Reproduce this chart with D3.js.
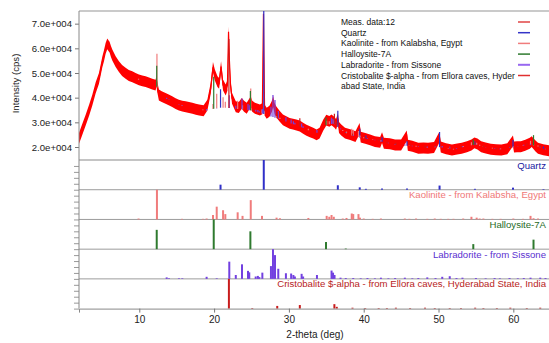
<!DOCTYPE html>
<html>
<head>
<meta charset="utf-8">
<script src="https://cdn.jsdelivr.net/npm/d3@7"></script>
<style>
  body { margin: 0; background: #fff; }
  svg { display: block; font-family: "Liberation Sans", Arial, sans-serif; }
</style>
</head>
<body>
<div id="chart"></div>
<script>
// measured pattern, centre of the noisy band [2theta, counts]
const measured = [
  [1.94, 23500], [2.3, 26500], [2.83, 30900], [3.3, 35000], [3.72, 39000], [4.17, 44000],
  [4.61, 47800], [5.06, 54500], [5.28, 57000], [5.5, 60000], [5.72, 61800], [5.9, 61000],
  [6.03, 60500], [6.2, 58800], [6.39, 57300], [6.84, 54600], [7.28, 52600], [7.7, 51000],
  [8.17, 49900], [8.6, 49000], [9.06, 48500], [9.5, 47800], [9.95, 47200], [10.4, 46800],
  [10.84, 46500], [11.3, 46000], [11.73, 45500], [12.18, 45100], [12.3, 46800], [12.4, 44500],
  [12.62, 41100], [13.0, 40400], [13.51, 39700], [14.0, 39000], [14.4, 38400], [14.85, 37600],
  [15.3, 37000], [15.75, 36600], [16.2, 36300], [16.65, 36000], [17.1, 35700], [17.55, 35300],
  [18.0, 35000], [18.6, 34700], [19.1, 37000], [19.55, 43800], [19.85, 52300], [20.1, 49200],
  [20.45, 46500], [20.67, 45800], [20.93, 52600], [21.05, 49000], [21.2, 45100], [21.55, 43100],
  [21.78, 45000], [21.93, 66700], [22.05, 55000], [22.2, 45000], [22.4, 39700], [22.9, 36300],
  [23.3, 36000], [23.7, 37700], [24.0, 36500], [24.36, 35700], [24.9, 38400], [25.1, 36500],
  [25.46, 35700], [26.13, 35000], [26.45, 35500], [26.6, 74000], [26.75, 35000], [27.03, 33700],
  [27.4, 34500], [27.7, 36300], [27.9, 38400], [28.1, 35500], [28.3, 34300], [28.75, 32500],
  [29.2, 31000], [29.65, 30300], [30.1, 29600], [30.55, 29300], [31.0, 28900], [31.45, 28500],
  [31.9, 27600], [32.35, 26800], [32.8, 26200], [33.25, 25600], [33.7, 24900], [34.1, 25600],
  [34.6, 28900], [35.0, 30900], [35.4, 30400], [35.7, 31000], [36.1, 30000], [36.3, 29200],
  [36.55, 31500], [36.7, 27900], [37.0, 26900], [37.5, 25600], [38.2, 25000], [38.9, 24200],
  [39.45, 27500], [39.6, 24000], [40.2, 23500], [40.85, 22900], [41.5, 22200], [42.2, 21900],
  [42.45, 23800], [42.7, 21500], [43.5, 21300], [44.2, 20800], [45.0, 20800], [45.75, 24500],
  [45.9, 20700], [46.5, 20300], [47.3, 19500], [48.0, 19600], [48.6, 19500], [49.4, 19800],
  [50.12, 24000], [50.3, 20000], [51.0, 19300], [51.8, 18800], [52.5, 19200], [53.1, 19500],
  [53.8, 20100], [54.4, 20800], [54.8, 21700], [55.2, 21200], [55.7, 20100], [56.3, 19600],
  [57.0, 19100], [57.7, 18900], [58.4, 18800], [59.2, 19300], [59.95, 22500], [60.1, 20000],
  [60.5, 20100], [61.0, 20100], [61.6, 20700], [62.2, 21500], [62.45, 22200], [62.6, 21700],
  [63.0, 20300], [63.3, 19500], [64.0, 18900], [64.77, 18500]
];
// half thickness of the noise band (counts)
const noiseHalf = 2200;

// background under the pattern, where the reference sticks start [2theta, counts]
const background = [
  [1.94, 23500], [2.83, 30900], [3.72, 39000], [4.61, 47800], [5.28, 56600], [5.72, 61300],
  [6.39, 57300], [7.28, 52600], [8.17, 49900], [9.06, 48500], [9.95, 47200], [10.84, 46500],
  [11.73, 45500], [12.3, 44800], [12.62, 41100], [13.51, 39700], [14.4, 38400], [15.3, 37000],
  [16.2, 36300], [17.1, 35700], [18, 35000], [19, 34800], [20, 35500], [21, 36000], [22, 35800],
  [23, 35500], [24, 35200], [25, 34800], [26, 34000], [27, 33000], [28, 32000], [29, 31200],
  [30, 29800], [31, 28900], [32, 27600], [33, 26200], [34, 25600], [35, 29000], [36, 29500],
  [37, 26900], [38, 25000], [40, 23500], [42, 22500], [44, 21000], [46, 20500], [48, 19700],
  [50, 20000], [52, 19000], [54, 20500], [55, 21000], [56, 20000], [58, 19000], [60, 19800],
  [62, 21000], [63, 20500], [64.77, 18500]
];

// reference patterns [2theta, relative intensity %]
const quartz = [
  [20.86, 17], [26.64, 100], [36.54, 15], [39.47, 8], [40.29, 3], [42.45, 4], [45.79, 4],
  [50.14, 14], [54.87, 3], [59.96, 7], [64.03, 2]
];
const kaolinite = [
  [9.9, 3], [12.36, 100], [15.7, 2], [18.5, 2], [19.0, 3], [19.85, 15], [20.35, 43], [21.2, 31],
  [21.5, 18], [23.15, 24], [23.8, 12], [24.9, 65], [26.4, 12], [28.35, 6], [28.8, 4], [32.6, 5],
  [35.05, 12], [35.4, 9], [35.7, 15], [36.0, 9], [37.2, 3], [37.7, 5], [38.4, 20], [38.6, 18],
  [39.3, 18], [39.5, 6], [40.0, 3], [41.2, 2], [42.3, 3], [45.5, 3], [46.1, 2], [47.0, 3],
  [48.5, 2], [49.5, 3], [50.3, 2], [51.3, 2], [52.0, 2], [53.3, 3], [54.4, 9], [55.1, 6],
  [55.5, 3], [56.0, 3], [57.2, 2], [58.3, 2], [60.0, 3], [61.3, 2], [62.3, 12], [62.7, 4], [63.3, 3]
];
const halloysite = [
  [12.33, 65], [19.95, 100], [24.85, 60], [34.96, 24], [37.6, 2], [54.65, 17], [62.7, 32]
];
const labradorite = [
  [13.66, 5], [13.97, 2], [15.3, 2], [15.75, 2], [19.0, 7], [20.35, 2], [22.03, 58], [22.9, 13],
  [23.73, 49], [24.53, 27], [24.7, 22], [25.56, 8], [25.85, 10], [26.05, 6], [26.45, 21],
  [27.6, 43], [27.87, 100], [28.14, 80], [28.58, 34], [29.6, 19], [30.3, 18], [30.6, 13],
  [30.8, 8], [31.7, 17], [31.9, 8], [33.75, 13], [35.7, 28], [35.9, 21], [36.1, 13], [36.9, 4],
  [37.6, 3], [38.6, 3], [39.6, 2], [40.5, 3], [41.5, 2], [42.3, 4], [43.3, 2], [44.2, 3],
  [45.5, 4], [46.5, 2], [47.3, 3], [48.5, 5], [49.6, 3], [50.5, 7], [51.5, 9], [52.4, 3],
  [53.2, 4], [55.0, 3], [56.3, 2], [57.5, 3], [58.2, 2], [59.5, 3], [60.6, 2], [61.4, 3],
  [62.3, 4], [63.6, 4], [64.3, 3]
];
const cristobalite = [
  [21.98, 100], [25.1, 2], [28.44, 9], [31.46, 12], [36.08, 15], [36.4, 6], [38.5, 3], [40.2, 2],
  [42.0, 2], [43.1, 2], [44.3, 3], [46.2, 2], [48.2, 3], [49.5, 2], [51.5, 2], [53.0, 2],
  [54.9, 3], [56.0, 2], [57.8, 2], [59.6, 3], [61.8, 2], [63.6, 3]
];

const phaseNames = [
  "Quartz",
  "Kaolinite - from Kalabsha, Egypt",
  "Halloysite-7A",
  "Labradorite - from Sissone",
  "Cristobalite $-alpha - from Ellora caves, Hyderabad State, India"
];
const legendLines = [
  "Meas. data:12",
  "Quartz",
  "Kaolinite - from Kalabsha, Egypt",
  "Halloysite-7A",
  "Labradorite - from Sissone",
  "Cristobalite $-alpha - from Ellora caves, Hyder",
  "abad State, India"
];
// full-scale height (counts) of each pattern when overlaid on the measurement
const overlayScale = [44000, 13700, 13000, 9000, 28000];

const yTickValues = [20000, 30000, 40000, 50000, 60000, 70000];
const xTickValues = [10, 20, 30, 40, 50, 60];

const phases = [quartz, kaolinite, halloysite, labradorite, cristobalite];
const stickColors = ["#3030c8", "#f07c7c", "#2f7a2f", "#7240e0", "#c81c1c"];
const labelColors = ["#2020a0", "#f07878", "#1f6b1f", "#5a30d0", "#b81c1c"];
const legendColors = ["#e04545", "#3434c8", "#f07c7c", "#2f7a2f", "#9868f0", "#e03030"];

const W = 549, H = 343;
const m = {left: 79, right: 549, top: 11, mainBottom: 160};
const panelH = 29.72;
const plotBottom = m.mainBottom + panelH * phases.length;

const svg = d3.select("#chart").append("svg")
  .attr("width", W)
  .attr("height", H);

const x = d3.scaleLinear().domain([1.94, 64.77]).range([m.left, m.right]);
const y = d3.scaleLinear().domain([14730, 75134]).range([m.mainBottom, m.top]);
const bg = d3.scaleLinear()
  .domain(background.map(d => d[0]))
  .range(background.map(d => d[1]));

svg.append("clipPath").attr("id", "mainClip")
  .append("rect")
    .attr("x", m.left).attr("y", m.top)
    .attr("width", m.right - m.left).attr("height", m.mainBottom - m.top);

// frame lines
svg.append("line")
  .attr("x1", m.left).attr("x2", m.right).attr("y1", m.top).attr("y2", m.top)
  .attr("stroke", "#b8b8b8").attr("stroke-width", 1.5);
svg.append("line")
  .attr("x1", m.left).attr("x2", m.right).attr("y1", m.mainBottom).attr("y2", m.mainBottom)
  .attr("stroke", "#c4c4c4").attr("stroke-width", 2);

// measured pattern
const main = svg.append("g").attr("clip-path", "url(#mainClip)");

main.append("path")
  .datum(measured)
  .attr("fill", "#ff0000")
  .attr("d", d3.area()
    .x(d => x(d[0]))
    .y0(d => y(d[1] - noiseHalf))
    .y1(d => y(d[1] + noiseHalf)));

main.append("path")
  .datum(measured)
  .attr("fill", "none")
  .attr("stroke", "#ff0000")
  .attr("stroke-width", 1.2)
  .attr("d", d3.line().x(d => x(d[0])).y(d => y(d[1])));

// reference sticks over the measurement
phases.forEach((sticks, i) => {
  main.append("g")
    .selectAll("line")
    .data(sticks)
    .enter().append("line")
      .attr("x1", d => x(d[0]))
      .attr("x2", d => x(d[0]))
      .attr("y1", d => y(bg(d[0])))
      .attr("y2", d => y(bg(d[0]) + d[1] / 100 * overlayScale[i]))
      .attr("stroke", stickColors[i])
      .attr("stroke-width", 1.2);
});

// main y axis
const yAxis = svg.append("g")
  .attr("transform", `translate(${m.left},0)`)
  .call(d3.axisLeft(y)
    .tickValues(yTickValues)
    .tickSize(4)
    .tickPadding(3)
    .tickFormat(d => (d / 10000).toFixed(1) + "e+004"));
yAxis.select(".domain").remove();
yAxis.selectAll("line").attr("stroke", "#777");
yAxis.selectAll("text").attr("font-size", 9.6).attr("fill", "#222").attr("font-family", "Liberation Sans, Arial, sans-serif");

// stick panels
phases.forEach((sticks, i) => {
  const t = m.mainBottom + i * panelH;
  const py = d3.scaleLinear().domain([0, 100]).range([t + panelH, t]);
  const g = svg.append("g");

  const ax = g.append("g")
    .attr("transform", `translate(${m.left},0)`)
    .call(d3.axisLeft(py).tickValues([0, 20, 40, 60, 80]).tickSize(5).tickFormat(""));
  ax.select(".domain").remove();
  ax.selectAll("line").attr("stroke", "#999");

  if (i < phases.length - 1) {
    g.append("line")
      .attr("x1", m.left).attr("x2", m.right)
      .attr("y1", t + panelH).attr("y2", t + panelH)
      .attr("stroke", "#9c9c9c").attr("stroke-width", 1);
  }

  g.append("g")
    .selectAll("line")
    .data(sticks)
    .enter().append("line")
      .attr("x1", d => x(d[0]))
      .attr("x2", d => x(d[0]))
      .attr("y1", py(0))
      .attr("y2", d => py(d[1]))
      .attr("stroke", stickColors[i])
      .attr("stroke-width", 2);

  g.append("text")
    .attr("x", 546)
    .attr("y", t + 8.5)
    .attr("text-anchor", "end")
    .attr("font-size", 9.6)
    .attr("fill", labelColors[i])
    .text(phaseNames[i]);
});

// left axis line over the whole height
svg.append("line")
  .attr("x1", m.left).attr("x2", m.left).attr("y1", m.top).attr("y2", plotBottom)
  .attr("stroke", "#888").attr("stroke-width", 1);

// x axis
const xAxis = svg.append("g")
  .attr("transform", `translate(0,${plotBottom})`)
  .call(d3.axisBottom(x).tickValues(xTickValues).tickSize(4).tickPadding(3));
xAxis.select(".domain").attr("stroke", "#888");
xAxis.selectAll("line").attr("stroke", "#777");
xAxis.selectAll("text").attr("font-size", 10).attr("fill", "#222").attr("font-family", "Liberation Sans, Arial, sans-serif");

// axis titles
svg.append("text")
  .attr("x", 315)
  .attr("y", 338)
  .attr("text-anchor", "middle")
  .attr("font-size", 10)
  .attr("fill", "#222")
  .text("2-theta (deg)");

svg.append("text")
  .attr("transform", "translate(18.5,83.5) rotate(-90)")
  .attr("text-anchor", "middle")
  .attr("font-size", 9.6)
  .attr("fill", "#222")
  .text("Intensity (cps)");

// legend
const legend = svg.append("g");
legendLines.forEach((txt, i) => {
  const cy = 22 + i * 10.7;
  legend.append("text")
    .attr("x", 341)
    .attr("y", cy + 3)
    .attr("font-size", 8.5)
    .attr("fill", "#111")
    .text(txt);
  if (i < legendColors.length) {
    legend.append("line")
      .attr("x1", 518).attr("x2", 530)
      .attr("y1", cy).attr("y2", cy)
      .attr("stroke", legendColors[i])
      .attr("stroke-width", i === 4 ? 2 : 1.5);
  }
});
</script>
</body>
</html>
